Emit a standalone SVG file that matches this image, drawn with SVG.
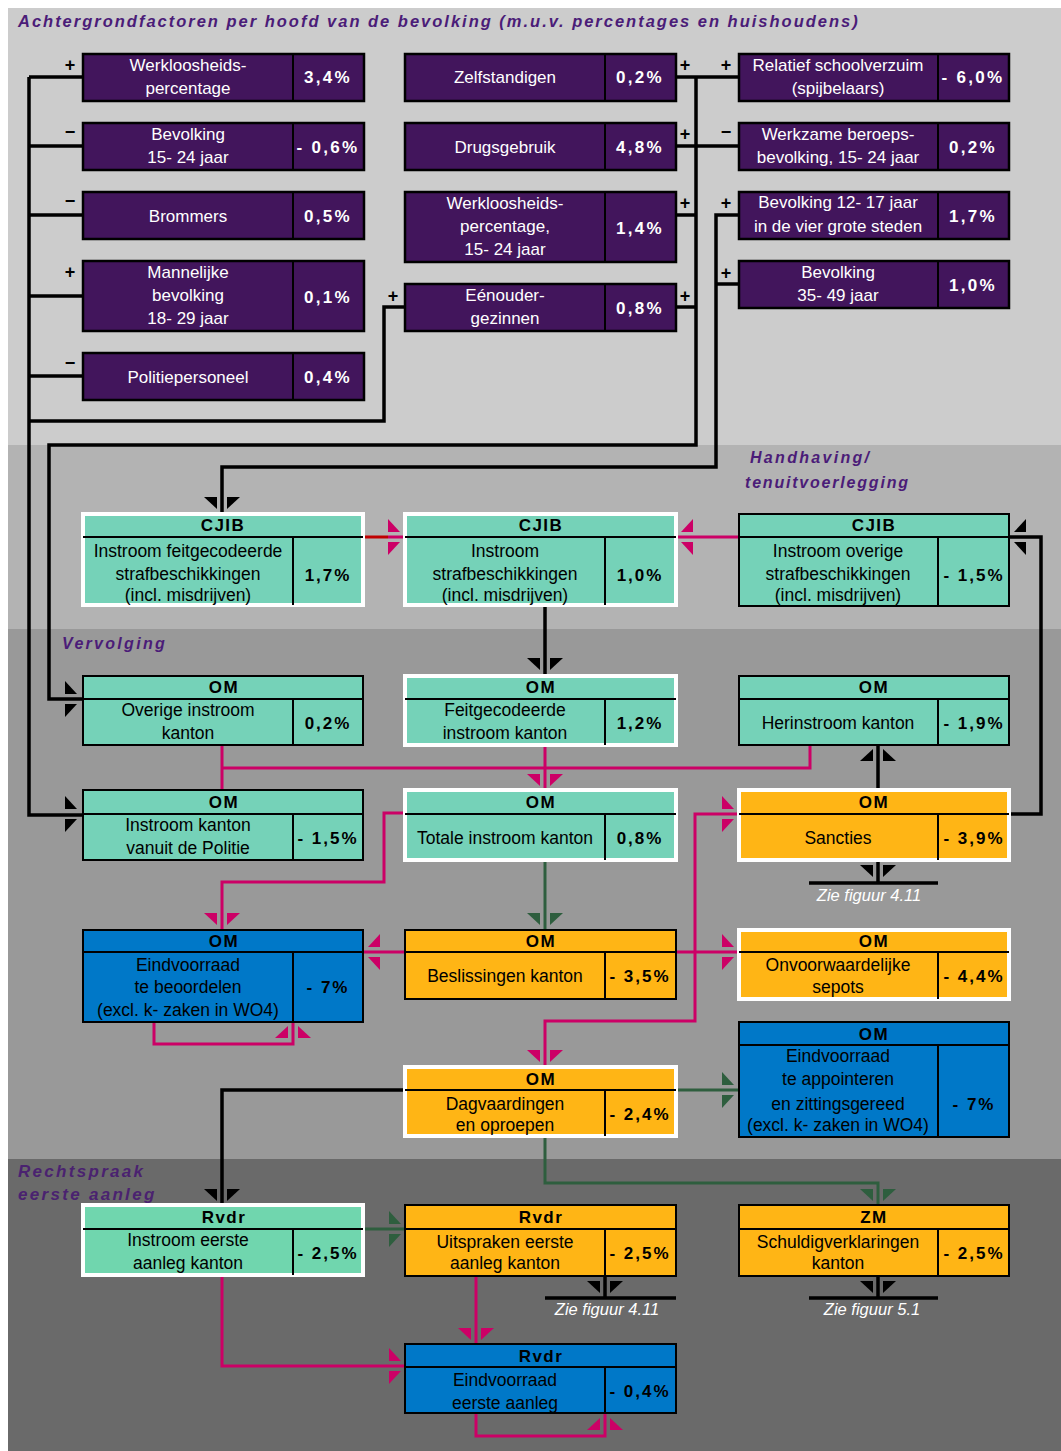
<svg xmlns="http://www.w3.org/2000/svg" width="1061" height="1451" viewBox="0 0 1061 1451">
<defs>
<style>
text{font-family:"Liberation Sans",Arial,sans-serif;font-size:17px;text-anchor:middle}
.pu{fill:#42155c;stroke:#000;stroke-width:2.5}
.te{fill:#75d2b8}
.te2{fill:#70d6ae}
.or{fill:#ffb515}
.bl{fill:#0078c8}
.bk{stroke:#000;stroke-width:2}
.wh{stroke:#fff;stroke-width:4}
.ln{stroke:#000;stroke-width:2}
.tw{fill:#fff}
.vw{fill:#fff;font-weight:bold;letter-spacing:2.3px}
.tb{fill:#000;font-size:17.5px}
.vb{fill:#000;font-weight:bold;letter-spacing:2px}
.hd{fill:#000;font-weight:bold;letter-spacing:1.5px}
.sg{fill:#000;font-weight:bold;font-size:18px}
.band{fill:#4b1c78;font-weight:bold;font-style:italic;font-size:16px;text-anchor:start;letter-spacing:2.3px}
.zie{fill:#fff;font-style:italic;font-size:16.5px}
.ck{fill:none;stroke:#000;stroke-width:3.5}
.cm{fill:none;stroke:#cc0066;stroke-width:3}
.cg{fill:none;stroke:#2e5e3e;stroke-width:3}
.cr{fill:none;stroke:#c00000;stroke-width:3}
.ak{fill:#000}
.am{fill:#cc0066}
.ag{fill:#2e5e3e}
</style>
<g id="ah"><polygon points="-18,-12 -5,-12 -5,0"/><polygon points="5,-12 18,-12 5,0"/></g>
</defs>

<!-- background bands -->
<rect x="0" y="0" width="1061" height="1451" fill="#fff"/>
<rect x="8" y="8" width="1053" height="437" fill="#cccccc"/>
<rect x="8" y="445" width="1053" height="184" fill="#b3b3b3"/>
<rect x="8" y="629" width="1053" height="530" fill="#999999"/>
<rect x="8" y="1159" width="1053" height="292" fill="#6a6a6a"/>

<text x="18" y="27" class="band" style="font-size:16.5px" textLength="842" lengthAdjust="spacing">Achtergrondfactoren per hoofd van de bevolking (m.u.v. percentages en huishoudens)</text>
<text x="750" y="463" class="band">Handhaving/</text>
<text x="745" y="488" class="band" style="letter-spacing:1.8px">tenuitvoerlegging</text>
<text x="62" y="649" class="band">Vervolging</text>
<text x="18" y="1177" class="band" style="fill:#4a2270;font-size:17px">Rechtspraak</text>
<text x="18" y="1200" class="band" style="fill:#4a2270;font-size:17px">eerste aanleg</text>

<!-- connectors -->
<g id="connectors">
<path class="ck" d="M29,77 V815 H83 M29,77 H83 M29,146 H83 M29,215 H83 M29,296 H83 M29,376 H83"/>
<path class="ck" d="M29,421 H384 V307 H405"/>
<path class="ck" d="M676,77 H739 M676,146 H739 M676,215 H696 M676,307 H696 M696,77 V445 H49 V699 H83"/>
<path class="ck" d="M739,215 H716 V467 H222 V514 M739,284 H716"/>
<path class="ck" d="M545,606 V676"/>
<path class="ck" d="M878,790 V745"/>
<path class="ck" d="M1009,814 H1041 V537 H1009"/>
<path class="ck" d="M878,860 V883 M809,883 H938"/>
<path class="ck" d="M405,1090 H222 V1205"/>
<path class="ck" d="M605,1276 V1298 M545,1298 H676"/>
<path class="ck" d="M878,1276 V1298 M809,1298 H938"/>

<path class="cr" d="M363,537 H388"/>
<path class="cm" d="M388,537 H405"/>
<path class="cm" d="M676,537 H739"/>
<path class="cm" d="M222,745 V790 M222,768 H810 V745 M545,745 V790"/>
<path class="cm" d="M405,813 H384 V882 H222 V930"/>
<path class="cm" d="M739,814 H695 V1021 H545 V1067"/>
<path class="cm" d="M363,952 H405 M676,952 H739"/>
<path class="cm" d="M154,1022 V1044 H293 V1022"/>
<path class="cm" d="M222,1275 V1366 H405"/>
<path class="cm" d="M476,1276 V1344"/>
<path class="cm" d="M476,1413 V1436 H605 V1413"/>

<path class="cg" d="M545,860 V930"/>
<path class="cg" d="M676,1090 H739"/>
<path class="cg" d="M545,1136 V1183 H878 V1205"/>
<path class="cg" d="M363,1229 H405"/>

<use href="#ah" class="ak" transform="translate(222,509)"/>
<use href="#ah" class="ak" transform="translate(77,699) rotate(-90)"/>
<use href="#ah" class="ak" transform="translate(77,814) rotate(-90)"/>
<use href="#ah" class="ak" transform="translate(1014,537) rotate(90)"/>
<use href="#ah" class="ak" transform="translate(545,670)"/>
<use href="#ah" class="ak" transform="translate(878,749) rotate(180)"/>
<use href="#ah" class="ak" transform="translate(878,877)"/>
<use href="#ah" class="ak" transform="translate(222,1201)"/>
<use href="#ah" class="ak" transform="translate(605,1293)"/>
<use href="#ah" class="ak" transform="translate(878,1293)"/>

<use href="#ah" class="am" transform="translate(400,537) rotate(-90)"/>
<use href="#ah" class="am" transform="translate(681,537) rotate(90)"/>
<use href="#ah" class="am" transform="translate(545,786)"/>
<use href="#ah" class="am" transform="translate(734,814) rotate(-90)"/>
<use href="#ah" class="am" transform="translate(222,925)"/>
<use href="#ah" class="am" transform="translate(368,952) rotate(90)"/>
<use href="#ah" class="am" transform="translate(293,1026) rotate(180)"/>
<use href="#ah" class="am" transform="translate(734,952) rotate(-90)"/>
<use href="#ah" class="am" transform="translate(545,1062)"/>
<use href="#ah" class="am" transform="translate(476,1340)"/>
<use href="#ah" class="am" transform="translate(401,1366) rotate(-90)"/>
<use href="#ah" class="am" transform="translate(605,1418) rotate(180)"/>

<use href="#ah" class="ag" transform="translate(545,925)"/>
<use href="#ah" class="ag" transform="translate(734,1090) rotate(-90)"/>
<use href="#ah" class="ag" transform="translate(878,1201)"/>
<use href="#ah" class="ag" transform="translate(401,1229) rotate(-90)"/>

<text class="sg" x="70" y="71">+</text>
<text class="sg" x="70" y="138">−</text>
<text class="sg" x="70" y="207">−</text>
<text class="sg" x="70" y="278">+</text>
<text class="sg" x="70" y="369">−</text>
<text class="sg" x="393" y="302">+</text>
<text class="sg" x="685" y="71">+</text>
<text class="sg" x="685" y="140">+</text>
<text class="sg" x="685" y="209">+</text>
<text class="sg" x="685" y="302">+</text>
<text class="sg" x="726" y="71">+</text>
<text class="sg" x="726" y="138">−</text>
<text class="sg" x="726" y="209">+</text>
<text class="sg" x="726" y="279">+</text>

<text class="zie" x="869" y="901">Zie figuur 4.11</text>
<text class="zie" x="607" y="1315">Zie figuur 4.11</text>
<text class="zie" x="872" y="1315">Zie figuur 5.1</text>
</g>

<!-- purple factor nodes -->
<g id="n-werkloosheid">
<rect class="pu" x="83" y="54" width="281" height="47"/><line class="ln" x1="293" y1="54" x2="293" y2="101"/>
<text class="tw"><tspan x="188" y="71">Werkloosheids-</tspan><tspan x="188" y="94">percentage</tspan></text>
<text class="vw" x="328" y="83">3,4%</text>
</g>
<g id="n-bevolking1524">
<rect class="pu" x="83" y="123" width="281" height="47"/><line class="ln" x1="293" y1="123" x2="293" y2="170"/>
<text class="tw"><tspan x="188" y="140">Bevolking</tspan><tspan x="188" y="163">15- 24 jaar</tspan></text>
<text class="vw" x="328" y="153">- 0,6%</text>
</g>
<g id="n-brommers">
<rect class="pu" x="83" y="192" width="281" height="47"/><line class="ln" x1="293" y1="192" x2="293" y2="239"/>
<text class="tw" x="188" y="222">Brommers</text>
<text class="vw" x="328" y="222">0,5%</text>
</g>
<g id="n-mannelijk">
<rect class="pu" x="83" y="261" width="281" height="70"/><line class="ln" x1="293" y1="261" x2="293" y2="331"/>
<text class="tw"><tspan x="188" y="278">Mannelijke</tspan><tspan x="188" y="301">bevolking</tspan><tspan x="188" y="324">18- 29 jaar</tspan></text>
<text class="vw" x="328" y="303">0,1%</text>
</g>
<g id="n-politie">
<rect class="pu" x="83" y="353" width="281" height="47"/><line class="ln" x1="293" y1="353" x2="293" y2="400"/>
<text class="tw" x="188" y="383">Politiepersoneel</text>
<text class="vw" x="328" y="383">0,4%</text>
</g>
<g id="n-zelfstandigen">
<rect class="pu" x="405" y="54" width="271" height="47"/><line class="ln" x1="605" y1="54" x2="605" y2="101"/>
<text class="tw" x="505" y="83">Zelfstandigen</text>
<text class="vw" x="640" y="83">0,2%</text>
</g>
<g id="n-drugs">
<rect class="pu" x="405" y="123" width="271" height="47"/><line class="ln" x1="605" y1="123" x2="605" y2="170"/>
<text class="tw" x="505" y="153">Drugsgebruik</text>
<text class="vw" x="640" y="153">4,8%</text>
</g>
<g id="n-werkl1524">
<rect class="pu" x="405" y="192" width="271" height="70"/><line class="ln" x1="605" y1="192" x2="605" y2="262"/>
<text class="tw"><tspan x="505" y="209">Werkloosheids-</tspan><tspan x="505" y="232">percentage,</tspan><tspan x="505" y="255">15- 24 jaar</tspan></text>
<text class="vw" x="640" y="234">1,4%</text>
</g>
<g id="n-eenouder">
<rect class="pu" x="405" y="284" width="271" height="47"/><line class="ln" x1="605" y1="284" x2="605" y2="331"/>
<text class="tw"><tspan x="505" y="301">Eénouder-</tspan><tspan x="505" y="324">gezinnen</tspan></text>
<text class="vw" x="640" y="314">0,8%</text>
</g>
<g id="n-schoolverzuim">
<rect class="pu" x="739" y="54" width="270" height="47"/><line class="ln" x1="938" y1="54" x2="938" y2="101"/>
<text class="tw"><tspan x="838" y="71">Relatief schoolverzuim</tspan><tspan x="838" y="94">(spijbelaars)</tspan></text>
<text class="vw" x="973" y="83">- 6,0%</text>
</g>
<g id="n-werkzame">
<rect class="pu" x="739" y="123" width="270" height="47"/><line class="ln" x1="938" y1="123" x2="938" y2="170"/>
<text class="tw"><tspan x="838" y="140">Werkzame beroeps-</tspan><tspan x="838" y="163">bevolking, 15- 24 jaar</tspan></text>
<text class="vw" x="973" y="153">0,2%</text>
</g>
<g id="n-bev1217">
<rect class="pu" x="739" y="192" width="270" height="47"/><line class="ln" x1="938" y1="192" x2="938" y2="239"/>
<text class="tw"><tspan x="838" y="208">Bevolking 12- 17 jaar</tspan><tspan x="838" y="232">in de vier grote steden</tspan></text>
<text class="vw" x="973" y="222">1,7%</text>
</g>
<g id="n-bev3549">
<rect class="pu" x="739" y="261" width="270" height="47"/><line class="ln" x1="938" y1="261" x2="938" y2="308"/>
<text class="tw"><tspan x="838" y="278">Bevolking</tspan><tspan x="838" y="301">35- 49 jaar</tspan></text>
<text class="vw" x="973" y="291">1,0%</text>
</g>

<!-- process nodes -->
<g id="n-cjib1">
<rect class="te wh" x="83" y="514" width="280" height="91"/>
<line class="ln" x1="83" y1="537" x2="363" y2="537"/><line class="ln" x1="293" y1="537" x2="293" y2="605"/>
<text class="hd" x="223" y="531">CJIB</text>
<text class="tb"><tspan x="188" y="557">Instroom feitgecodeerde</tspan><tspan x="188" y="580">strafbeschikkingen</tspan><tspan x="188" y="601">(incl. misdrijven)</tspan></text>
<text class="vb" x="328" y="581">1,7%</text>
</g>
<g id="n-cjib2">
<rect class="te wh" x="405" y="514" width="271" height="91"/>
<line class="ln" x1="405" y1="537" x2="676" y2="537"/><line class="ln" x1="605" y1="537" x2="605" y2="605"/>
<text class="hd" x="541" y="531">CJIB</text>
<text class="tb"><tspan x="505" y="557">Instroom</tspan><tspan x="505" y="580">strafbeschikkingen</tspan><tspan x="505" y="601">(incl. misdrijven)</tspan></text>
<text class="vb" x="640" y="581">1,0%</text>
</g>
<g id="n-cjib3">
<rect class="te bk" x="739" y="514" width="270" height="92"/>
<line class="ln" x1="739" y1="537" x2="1009" y2="537"/><line class="ln" x1="938" y1="537" x2="938" y2="606"/>
<text class="hd" x="874" y="531">CJIB</text>
<text class="tb"><tspan x="838" y="557">Instroom overige</tspan><tspan x="838" y="580">strafbeschikkingen</tspan><tspan x="838" y="601">(incl. misdrijven)</tspan></text>
<text class="vb" x="974" y="581">- 1,5%</text>
</g>

<g id="n-om-overige">
<rect class="te bk" x="83" y="676" width="280" height="69"/>
<line class="ln" x1="83" y1="699" x2="363" y2="699"/><line class="ln" x1="293" y1="699" x2="293" y2="745"/>
<text class="hd" x="224" y="693">OM</text>
<text class="tb"><tspan x="188" y="716">Overige instroom</tspan><tspan x="188" y="739">kanton</tspan></text>
<text class="vb" x="328" y="729">0,2%</text>
</g>
<g id="n-om-feit">
<rect class="te wh" x="405" y="676" width="271" height="69"/>
<line class="ln" x1="405" y1="699" x2="676" y2="699"/><line class="ln" x1="605" y1="699" x2="605" y2="745"/>
<text class="hd" x="541" y="693">OM</text>
<text class="tb"><tspan x="505" y="716">Feitgecodeerde</tspan><tspan x="505" y="739">instroom kanton</tspan></text>
<text class="vb" x="640" y="729">1,2%</text>
</g>
<g id="n-om-herin">
<rect class="te bk" x="739" y="676" width="270" height="69"/>
<line class="ln" x1="739" y1="699" x2="1009" y2="699"/><line class="ln" x1="938" y1="699" x2="938" y2="745"/>
<text class="hd" x="874" y="693">OM</text>
<text class="tb" x="838" y="729">Herinstroom kanton</text>
<text class="vb" x="974" y="729">- 1,9%</text>
</g>

<g id="n-om-politie">
<rect class="te bk" x="83" y="790" width="280" height="70"/>
<line class="ln" x1="83" y1="814" x2="363" y2="814"/><line class="ln" x1="293" y1="814" x2="293" y2="860"/>
<text class="hd" x="224" y="808">OM</text>
<text class="tb"><tspan x="188" y="831">Instroom kanton</tspan><tspan x="188" y="854">vanuit de Politie</tspan></text>
<text class="vb" x="328" y="844">- 1,5%</text>
</g>
<g id="n-om-totaal">
<rect class="te wh" x="405" y="790" width="271" height="70"/>
<line class="ln" x1="405" y1="814" x2="676" y2="814"/><line class="ln" x1="605" y1="814" x2="605" y2="860"/>
<text class="hd" x="541" y="808">OM</text>
<text class="tb" x="505" y="844">Totale instroom kanton</text>
<text class="vb" x="640" y="844">0,8%</text>
</g>
<g id="n-om-sancties">
<rect class="or wh" x="739" y="790" width="270" height="70"/>
<line class="ln" x1="739" y1="814" x2="1009" y2="814"/><line class="ln" x1="938" y1="814" x2="938" y2="860"/>
<text class="hd" x="874" y="808">OM</text>
<text class="tb" x="838" y="844">Sancties</text>
<text class="vb" x="974" y="844">- 3,9%</text>
</g>

<g id="n-om-eindbeoord">
<rect class="bl bk" x="83" y="930" width="280" height="92"/>
<line class="ln" x1="83" y1="952" x2="363" y2="952"/><line class="ln" x1="293" y1="952" x2="293" y2="1022"/>
<text class="hd" x="224" y="947">OM</text>
<text class="tb"><tspan x="188" y="971">Eindvoorraad</tspan><tspan x="188" y="993">te beoordelen</tspan><tspan x="188" y="1016">(excl. k- zaken in WO4)</tspan></text>
<text class="vb" x="328" y="993">- 7%</text>
</g>
<g id="n-om-beslissingen">
<rect class="or bk" x="405" y="930" width="271" height="69"/>
<line class="ln" x1="405" y1="952" x2="676" y2="952"/><line class="ln" x1="605" y1="952" x2="605" y2="999"/>
<text class="hd" x="541" y="947">OM</text>
<text class="tb" x="505" y="982">Beslissingen kanton</text>
<text class="vb" x="640" y="982">- 3,5%</text>
</g>
<g id="n-om-sepots">
<rect class="or wh" x="739" y="930" width="270" height="69"/>
<line class="ln" x1="739" y1="952" x2="1009" y2="952"/><line class="ln" x1="938" y1="952" x2="938" y2="999"/>
<text class="hd" x="874" y="947">OM</text>
<text class="tb"><tspan x="838" y="971">Onvoorwaardelijke</tspan><tspan x="838" y="993">sepots</tspan></text>
<text class="vb" x="974" y="982">- 4,4%</text>
</g>

<g id="n-om-appoint">
<rect class="bl bk" x="739" y="1022" width="270" height="115"/>
<line class="ln" x1="739" y1="1045" x2="1009" y2="1045"/><line class="ln" x1="938" y1="1045" x2="938" y2="1137"/>
<text class="hd" x="874" y="1040">OM</text>
<text class="tb"><tspan x="838" y="1062">Eindvoorraad</tspan><tspan x="838" y="1085">te appointeren</tspan><tspan x="838" y="1110">en zittingsgereed</tspan><tspan x="838" y="1131">(excl. k- zaken in WO4)</tspan></text>
<text class="vb" x="974" y="1110">- 7%</text>
</g>
<g id="n-om-dagv">
<rect class="or wh" x="405" y="1067" width="271" height="69"/>
<line class="ln" x1="405" y1="1090" x2="676" y2="1090"/><line class="ln" x1="605" y1="1090" x2="605" y2="1136"/>
<text class="hd" x="541" y="1085">OM</text>
<text class="tb"><tspan x="505" y="1110">Dagvaardingen</tspan><tspan x="505" y="1131">en oproepen</tspan></text>
<text class="vb" x="640" y="1120">- 2,4%</text>
</g>

<g id="n-rvdr-instroom">
<rect class="te2 wh" x="83" y="1205" width="280" height="70"/>
<line class="ln" x1="83" y1="1229" x2="363" y2="1229"/><line class="ln" x1="293" y1="1229" x2="293" y2="1275"/>
<text class="hd" x="224" y="1223">Rvdr</text>
<text class="tb"><tspan x="188" y="1246">Instroom eerste</tspan><tspan x="188" y="1269">aanleg kanton</tspan></text>
<text class="vb" x="328" y="1259">- 2,5%</text>
</g>
<g id="n-rvdr-uitspraken">
<rect class="or bk" x="405" y="1205" width="271" height="71"/>
<line class="ln" x1="405" y1="1229" x2="676" y2="1229"/><line class="ln" x1="605" y1="1229" x2="605" y2="1276"/>
<text class="hd" x="541" y="1223">Rvdr</text>
<text class="tb"><tspan x="505" y="1248">Uitspraken eerste</tspan><tspan x="505" y="1269">aanleg kanton</tspan></text>
<text class="vb" x="640" y="1259">- 2,5%</text>
</g>
<g id="n-zm">
<rect class="or bk" x="739" y="1205" width="270" height="71"/>
<line class="ln" x1="739" y1="1229" x2="1009" y2="1229"/><line class="ln" x1="938" y1="1229" x2="938" y2="1276"/>
<text class="hd" x="874" y="1223">ZM</text>
<text class="tb"><tspan x="838" y="1248">Schuldigverklaringen</tspan><tspan x="838" y="1269">kanton</tspan></text>
<text class="vb" x="974" y="1259">- 2,5%</text>
</g>
<g id="n-rvdr-eind">
<rect class="bl bk" x="405" y="1344" width="271" height="69"/>
<line class="ln" x1="405" y1="1367" x2="676" y2="1367"/><line class="ln" x1="605" y1="1367" x2="605" y2="1413"/>
<text class="hd" x="541" y="1362">Rvdr</text>
<text class="tb"><tspan x="505" y="1386">Eindvoorraad</tspan><tspan x="505" y="1409">eerste aanleg</tspan></text>
<text class="vb" x="640" y="1397">- 0,4%</text>
</g>
</svg>
